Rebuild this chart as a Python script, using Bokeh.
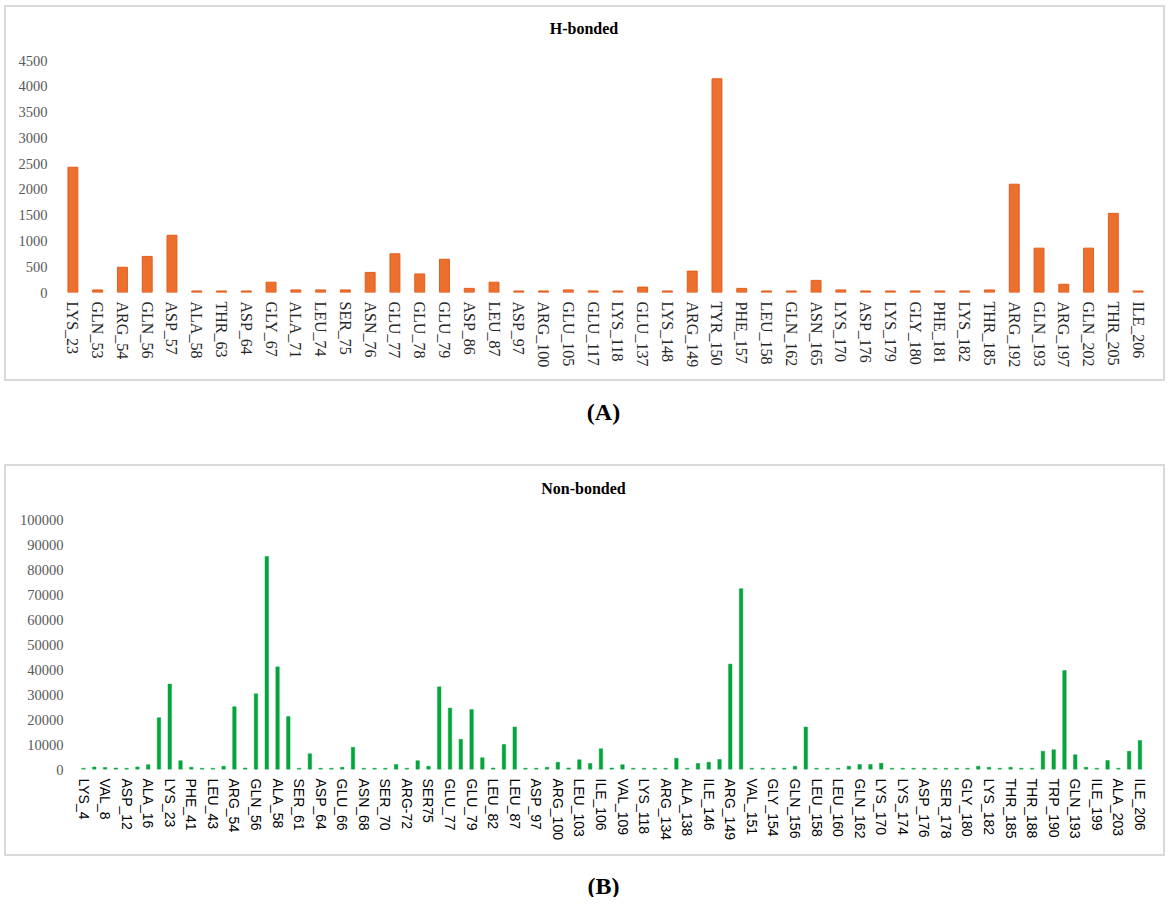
from bokeh.plotting import figure
from bokeh.models import Range1d, FactorRange, FixedTicker, BasicTickFormatter, Label
from bokeh.layouts import column
from bokeh.embed import file_html
from bokeh.resources import INLINE
from bokeh.core.properties import value

# ---------------- data ----------------
hb_residues = ["LYS_23", "GLN_53", "ARG_54", "GLN_56", "ASP_57", "ALA_58", "THR_63", "ASP_64",
               "GLY_67", "ALA_71", "LEU_74", "SER_75", "ASN_76", "GLU_77", "GLU_78", "GLU_79",
               "ASP_86", "LEU_87", "ASP_97", "ARG_100", "GLU_105", "GLU_117", "LYS_118", "GLU_137",
               "LYS_148", "ARG_149", "TYR_150", "PHE_157", "LEU_158", "GLN_162", "ASN_165", "LYS_170",
               "ASP_176", "LYS_179", "GLY_180", "PHE_181", "LYS_182", "THR_185", "ARG_192", "GLN_193",
               "ARG_197", "GLN_202", "THR_205", "ILE_206"]
hb_values = [2430, 50, 490, 700, 1110, 30, 30, 30,
             200, 50, 50, 50, 390, 750, 360, 645,
             80, 200, 30, 30, 50, 30, 30, 105,
             30, 415, 4145, 80, 30, 30, 235, 50,
             30, 30, 30, 30, 30, 50, 2100, 860,
             160, 860, 1535, 30]
hb_yticks = [0, 500, 1000, 1500, 2000, 2500, 3000, 3500, 4000, 4500]

nb_values = [500, 1000, 800, 600, 500, 1000, 1900, 20700, 34200, 3500,
             900, 500, 500, 1300, 25100, 600, 30300, 85300, 41100, 21200,
             500, 6300, 500, 500, 900, 8900, 500, 500, 500, 2000,
             500, 3500, 1300, 33100, 24600, 12100, 24000, 4700, 600, 10000,
             17000, 500, 500, 900, 2900, 600, 3900, 2400, 8300, 600,
             1900, 500, 500, 500, 500, 4500, 500, 2400, 2900, 4000,
             42200, 72400, 500, 500, 500, 500, 1300, 17000, 500, 500,
             500, 1300, 2000, 2000, 2500, 500, 500, 500, 500, 500,
             500, 500, 500, 1300, 900, 500, 900, 500, 500, 7300,
             7900, 39600, 5900, 900, 500, 3600, 500, 7300, 11600]
# labels shown under every other bar (bar 0, 2, 4, ...)
nb_tick_labels = ["LYS_4", "VAL_8", "ASP_12", "ALA_16", "LYS_23", "PHE_41", "LEU_43", "ARG_54", "GLN_56", "ALA_58",
                  "SER_61", "ASP_64", "GLU_66", "ASN_68", "SER_70", "ARG-72", "SER75", "GLU_77", "GLU_79", "LEU_82",
                  "LEU_87", "ASP_97", "ARG_100", "LEU_103", "ILE_106", "VAL_109", "LYS_118", "ARG_134", "ALA_138", "ILE_146",
                  "ARG_149", "VAL_151", "GLY_154", "GLN_156", "LEU_158", "LEU_160", "GLN_162", "LYS_170", "LYS_174", "ASP_176",
                  "SER_178", "GLY_180", "LYS_182", "THR_185", "THR_188", "TRP_190", "GLN_193", "ILE_199", "ALA_203", "ILE_206"]
nb_yticks = [0, 10000, 20000, 30000, 40000, 50000, 60000, 70000, 80000, 90000, 100000]

# ---------------- style / layout (pixels) ----------------
W = 1161
SERIF = "Liberation Serif"
SANS = "Liberation Sans"
BORDER = {"border": "2px solid #d9d9d9"}
ORANGE = "#EC6F2D"
ORANGE_LINE = "#E05E1E"
GREEN = "#04A53C"
LEFT = 54
RIGHT = 17
TOP = 5
FRAME_W = W - LEFT - RIGHT            # 1090 px

# panel A: canvas height 376; plotted band 0..4500 spans 232 px, title sits 32 px above 4500
A_H, A_BOTTOM, A_BAND = 376, 91, 232
A_FRAME_H = A_H - TOP - A_BOTTOM
A_YMAX = 4500 * A_FRAME_H / A_BAND
# panel B: canvas height 392; band 0..100000 spans 249.7 px
B_H, B_BOTTOM, B_BAND = 392, 89, 249.7
B_FRAME_H = B_H - TOP - B_BOTTOM
B_YMAX = 100000 * B_FRAME_H / B_BAND
B_STEP = 10.78                          # px per bar slot
B_X0 = -23 / B_STEP
B_X1 = B_X0 + FRAME_W / B_STEP


def style_common(p):
    p.outline_line_color = None
    p.xgrid.visible = False
    p.ygrid.visible = False
    for ax in (p.xaxis[0], p.yaxis[0]):
        ax.axis_line_color = None
        ax.major_tick_line_color = None
        ax.minor_tick_line_color = None
        ax.major_tick_out = 0
        ax.major_tick_in = 0
        ax.minor_tick_out = 0


def add_title(p, x, y, txt):
    p.add_layout(Label(x=x, y=y, text=txt, text_align="center", text_baseline="middle",
                       text_font=SERIF, text_font_style="bold", text_font_size="16px",
                       text_color="#000000"))


# ---------------- panel A ----------------
pA = figure(width=W, height=A_H, x_range=FactorRange(factors=hb_residues, range_padding=0),
            y_range=Range1d(0, A_YMAX), output_backend="svg", toolbar_location=None,
            title_location=None,
            min_border_left=LEFT, min_border_right=RIGHT, min_border_top=TOP, min_border_bottom=A_BOTTOM,
            styles=BORDER, margin=(5, 0, 0, 4))
pA.vbar(x=hb_residues, top=hb_values, width=0.4, fill_color=ORANGE, line_color=ORANGE_LINE, line_width=1)
style_common(pA)
add_title(pA, (583.5 - 60) / FRAME_W * len(hb_residues), 4500 * (292 - 28) / A_BAND, "H-bonded")
pA.yaxis.ticker = FixedTicker(ticks=hb_yticks)
pA.yaxis.major_label_text_font = SERIF
pA.yaxis.major_label_text_font_size = "14.5px"
pA.yaxis.major_label_text_color = "#595959"
pA.yaxis.major_label_standoff = 13
pA.xaxis.major_label_orientation = "vertical"
pA.xaxis.major_label_text_font = SERIF
pA.xaxis.major_label_text_font_size = "16px"
pA.xaxis.major_label_text_color = "#262626"
pA.xaxis.major_label_standoff = 9

# ---------------- panel B ----------------
nb_index = list(range(len(nb_values)))
nb_tick_pos = nb_index[::2]
pB = figure(width=W, height=B_H, x_range=Range1d(B_X0, B_X1),
            y_range=Range1d(0, B_YMAX), output_backend="svg", toolbar_location=None,
            title_location=None,
            min_border_left=LEFT, min_border_right=RIGHT, min_border_top=TOP, min_border_bottom=B_BOTTOM,
            styles=BORDER, margin=(0, 0, 0, 4))
pB.vbar(x=nb_index, top=nb_values, width=0.32, fill_color=GREEN, line_color=GREEN, line_width=0.5)
style_common(pB)
add_title(pB, B_X0 + (583 - 60) / B_STEP, 100000 * (769 - 487.7) / B_BAND, "Non-bonded")
pB.yaxis.ticker = FixedTicker(ticks=nb_yticks)
pB.yaxis.formatter = BasicTickFormatter(use_scientific=False)
pB.yaxis.major_label_text_font = SERIF
pB.yaxis.major_label_text_font_size = "14.5px"
pB.yaxis.major_label_text_color = "#595959"
pB.yaxis.major_label_standoff = -3
pB.xaxis.ticker = FixedTicker(ticks=nb_tick_pos)
pB.xaxis.major_label_overrides = {i: lab for i, lab in zip(nb_tick_pos, nb_tick_labels)}
pB.xaxis.major_label_orientation = "vertical"
pB.xaxis.major_label_text_font = SANS
pB.xaxis.major_label_text_font_size = "14px"
pB.xaxis.major_label_text_color = "#000000"
pB.xaxis.major_label_standoff = 9


# ---------------- panel captions ----------------
def caption(h, yfrac, txt):
    f = figure(width=W, height=h, x_range=Range1d(0, 1), y_range=Range1d(0, 1),
               x_axis_type=None, y_axis_type=None, output_backend="svg", toolbar_location=None,
               min_border=0, margin=(0, 0, 0, 4))
    f.outline_line_color = None
    f.text(x=[0.5], y=[yfrac], text=[txt], text_align="center", text_baseline="middle",
           text_font=value(SERIF), text_font_style="bold", text_font_size="24px", text_color="#000000")
    return f


capA = caption(83, 1 - 30.7 / 83, "(A)")
capB = caption(41, 1 - 29 / 41, "(B)")

layout = column(pA, capA, pB, capB, spacing=0)
open("out.html", "w").write(file_html(layout, INLINE))
